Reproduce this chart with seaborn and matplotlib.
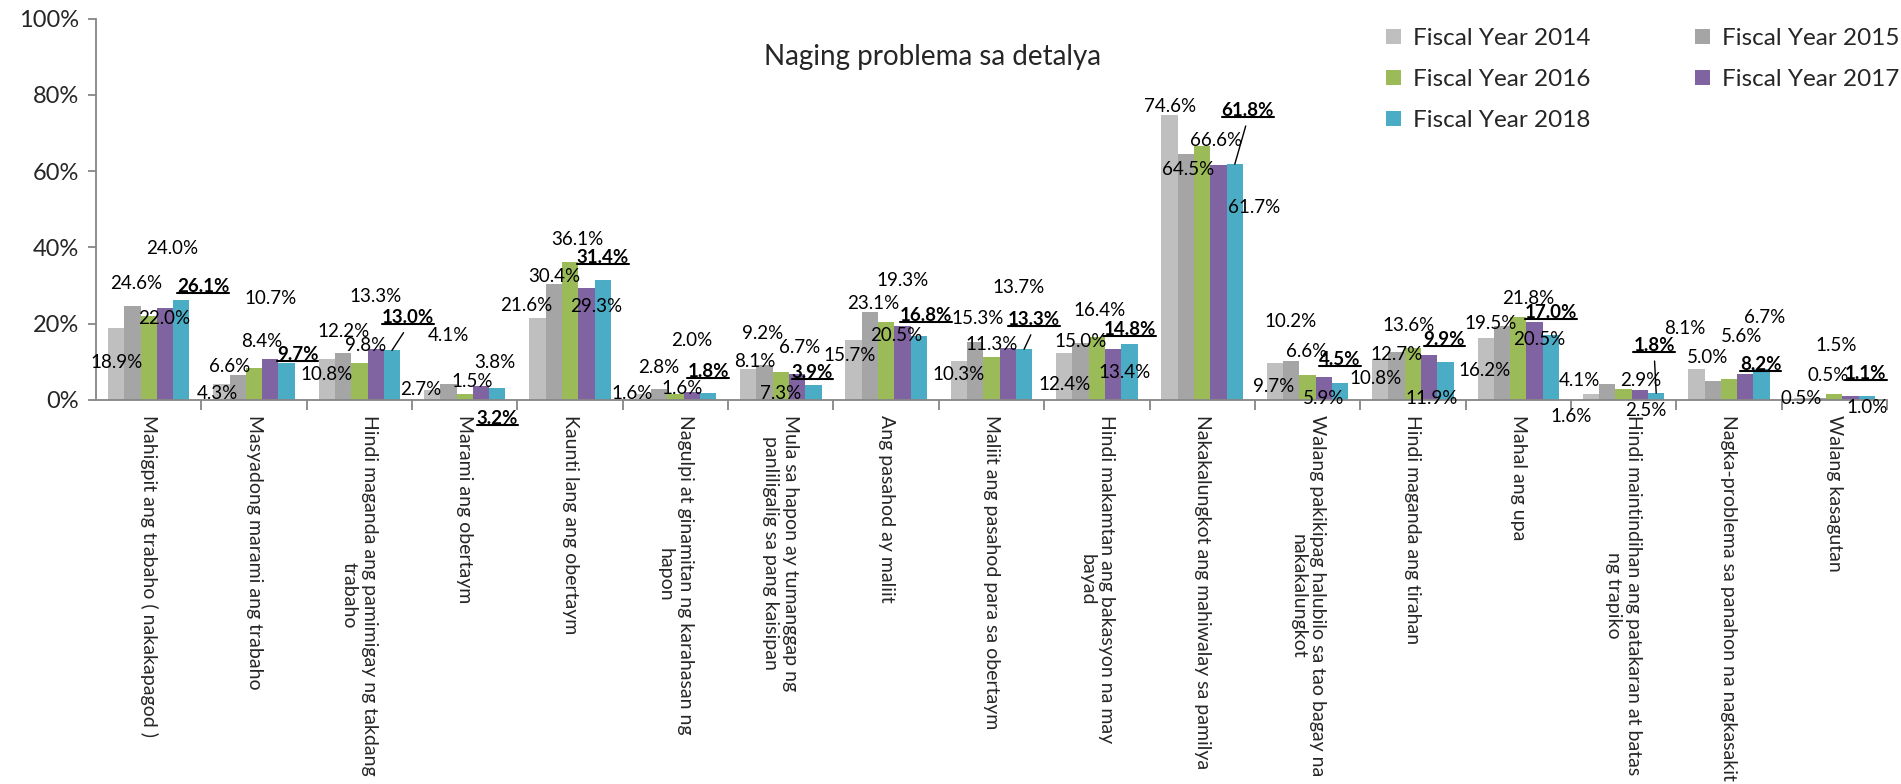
import matplotlib
matplotlib.use("Agg")
import matplotlib.pyplot as plt
import seaborn as sns
import pandas as pd
from matplotlib.lines import Line2D
from matplotlib.text import Text

categories = [
    "Mahigpit ang trabaho ( nakakapagod )",
    "Masyadong marami ang trabaho",
    "Hindi maganda ang pamimigay ng takdang\ntrabaho",
    "Marami ang obertaym",
    "Kaunti lang ang obertaym",
    "Nagulpi at ginamitan ng karahasan ng\nhapon",
    "Mula sa hapon ay tumanggap ng\npanliligalig sa pang kaisipan",
    "Ang pasahod ay maliit",
    "Maliit ang pasahod para sa obertaym",
    "Hindi makamtan ang bakasyon na may\nbayad",
    "Nakakalungkot ang mahiwalay sa pamilya",
    "Walang pakikipag halubilo sa tao bagay na\nnakakalungkot",
    "Hindi maganda ang tirahan",
    "Mahal ang upa",
    "Hindi maintindihan ang patakaran at batas\nng trapiko",
    "Nagka-problema sa panahon na nagkasakit",
    "Walang kasagutan",
]
years = ["Fiscal Year 2014", "Fiscal Year 2015", "Fiscal Year 2016",
         "Fiscal Year 2017", "Fiscal Year 2018"]

fy2014 = [18.9, 4.3, 10.8, 2.7, 21.6, 1.6, 8.1, 15.7, 10.3, 12.4, 74.6, 9.7, 10.8, 16.2, 1.6, 8.1, 0.5]
fy2015 = [24.6, 6.6, 12.2, 4.1, 30.4, 2.8, 9.2, 23.1, 15.3, 15.0, 64.5, 10.2, 12.7, 19.5, 4.1, 5.0, 0.5]
fy2016 = [22.0, 8.4, 9.8, 1.5, 36.1, 1.6, 7.3, 20.5, 11.3, 16.4, 66.6, 6.6, 13.6, 21.8, 2.9, 5.6, 1.5]
fy2017 = [24.0, 10.7, 13.3, 3.8, 29.3, 2.0, 6.7, 19.3, 13.7, 13.4, 61.7, 5.9, 11.9, 20.5, 2.5, 6.7, 1.0]
fy2018 = [26.1, 9.7, 13.0, 3.2, 31.4, 1.8, 3.9, 16.8, 13.3, 14.8, 61.8, 4.5, 9.9, 17.0, 1.8, 8.2, 1.1]

colors = ["#BFBFBF", "#A5A5A5", "#9BBB59", "#8064A2", "#4BACC6"]

# where each value label sits relative to the top of its bar (pixels), one row per category
label_offsets = [
    [(0, -35), (4, 23), (15, -2), (7, 60), (22, 14)],
    [(-4, -10), (-8, 8), (8, 26), (0, 61), (11, 8)],
    [(0, -16), (0, 22), (6, 17), (0, 53), (16, 33)],
    [(-11, 0), (0, 49), (7, 13), (14, 23), (0, -31)],
    [(-11, 12), (0, 8), (7, 23), (10, -18), (0, 23)],
    [(-11, 0), (0, 22), (7, 5), (0, 52), (0, 22)],
    [(7, 8), (-2, 31), (0, -21), (3, 27), (-1, 13)],
    [(-4, -15), (3, 8), (10, -14), (0, 46), (7, 20)],
    [(0, -14), (2, 23), (0, 12), (11, 60), (10, 30)],
    [(0, -32), (0, 1), (3, 27), (11, -24), (0, 14)],
    [(0, 9), (2, -16), (14, 5), (36, -43), (13, 54)],
    [(-1, -24), (-1, 40), (-1, 23), (0, -21), (0, 23)],
    [(-5, -20), (0, -3), (-4, 23), (2, -44), (-1, 23)],
    [(-1, -32), (-11, 2), (10, 18), (5, -18), (0, 23)],
    [(-20, -23), (-28, 4), (17, 8), (6, -20), (-2, 48)],
    [(-12, 41), (-5, 23), (13, 42), (19, 57), (-1, 4)],
    [(-1, 0), (10, 23), (2, 49), (17, -11), (-1, 22)],
]
leader_lines = [2, 8, 10, 14]  # categories whose 2018 label has a connector line

series = [fy2014, fy2015, fy2016, fy2017, fy2018]
df = pd.DataFrame({
    "category": [c for _ in years for c in categories],
    "year": [y for y in years for _ in categories],
    "value": [v for s in series for v in s],
})

sns.set_theme(style="white")
plt.rcParams["font.family"] = ["Lato", "DejaVu Sans"]

W, H = 1901, 784
fig = plt.figure(figsize=(W / 100, H / 100), dpi=100)
ax = fig.add_axes([96 / W, (H - 400) / H, (1887 - 96) / W, (400 - 18.5) / H])

sns.barplot(data=df, x="category", y="value", hue="year", palette=colors,
            width=0.773, saturation=1, linewidth=0, errorbar=None, ax=ax)

ax.set_ylim(0, 100)
ax.set_xlim(-0.5, len(categories) - 0.5)
ax.set_xlabel("")
ax.set_ylabel("")

ax.set_yticks(range(0, 101, 20))
ax.set_yticklabels([f"{v}%" for v in range(0, 101, 20)], fontsize=17)
ax.set_xticks(range(len(categories)))
ax.set_xticklabels(categories, rotation=270, ha="center", va="top",
                   multialignment="center", fontsize=14)
ax.set_xticks([i + 0.5 for i in range(len(categories))], minor=True)
ax.tick_params(axis="x", which="major", length=0, pad=11)
ax.tick_params(axis="x", which="minor", length=7, width=1.3, color="#868686", direction="out", bottom=True)
ax.tick_params(axis="y", which="major", length=6, width=1.3, color="#868686", direction="out", left=True, pad=6)

sns.despine(ax=ax)
for side in ["left", "bottom"]:
    ax.spines[side].set_color("#868686")
    ax.spines[side].set_linewidth(1.3)

# value labels
bold_texts = []
for j, bars in enumerate(ax.containers):
    for i, bar in enumerate(bars):
        x = bar.get_x() + bar.get_width() / 2
        h = bar.get_height()
        dx, dy = label_offsets[i][j]
        kw = {}
        if j == 4 and i in leader_lines:
            kw["arrowprops"] = dict(arrowstyle="-", color="black", lw=1,
                                    relpos=(0.5, 0), shrinkA=3, shrinkB=0)
        t = ax.annotate(f"{h:.1f}%", xy=(x, h), xytext=(dx, dy), textcoords="offset pixels",
                        ha="center", va="center", fontsize=13.5, color="black",
                        fontweight="bold" if j == 4 else "normal", **kw)
        if j == 4:
            bold_texts.append(t)

# legend, filled row by row like the original
handles, labels = ax.get_legend_handles_labels()
ax.get_legend().remove()
order = [0, 2, 4, 1, 3]
fig.legend([handles[k] for k in order], [labels[k] for k in order], ncol=2,
           loc="upper left", bbox_to_anchor=(1386 / W, 1 - 28 / H), frameon=False,
           fontsize=17.5, handlelength=0.6, handleheight=0.6, handletextpad=0.5,
           columnspacing=4.32, labelspacing=0.83, borderpad=0, borderaxespad=0)

fig.text(932 / W, 1 - 57 / H, "Naging problema sa detalya", ha="center", va="center", fontsize=20)

# underline the bold 2018 labels
fig.canvas.draw()
renderer = fig.canvas.get_renderer()
inv = fig.transFigure.inverted()
for t in bold_texts:
    bb = Text.get_window_extent(t, renderer)
    (x0, y0), (x1, _) = inv.transform([(bb.x0, bb.y0 + 2), (bb.x1, bb.y0 + 2)])
    fig.add_artist(Line2D([x0, x1], [y0, y0], transform=fig.transFigure, color="black", lw=1.5))

fig.savefig("out.png", dpi=100)
